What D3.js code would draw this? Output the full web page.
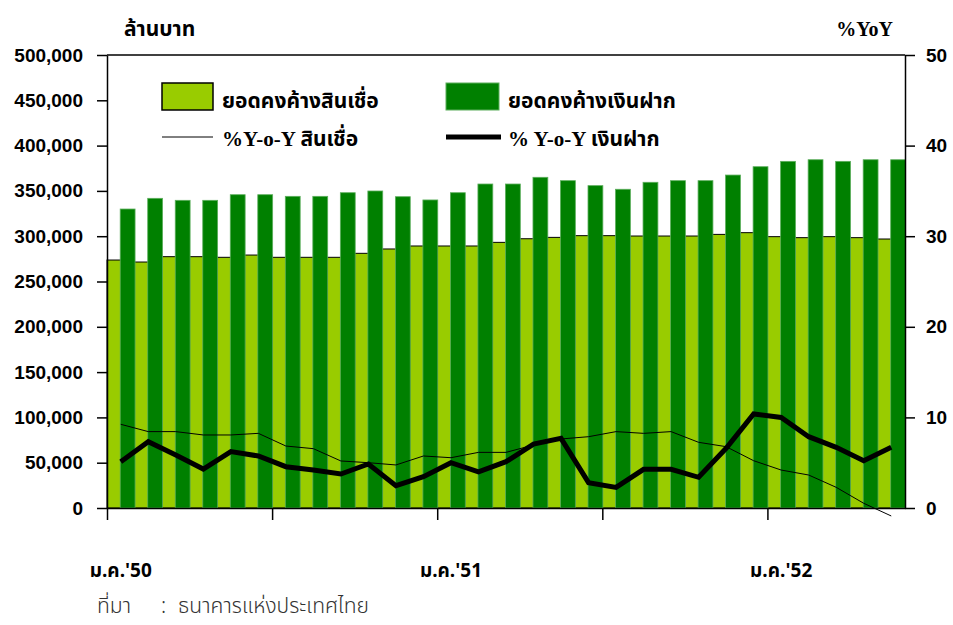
<!DOCTYPE html>
<html>
<head>
<meta charset="utf-8">
<script src="https://cdn.jsdelivr.net/npm/d3@7"></script>
<style>
  body { margin: 0; background: #fff; }
  svg { display: block; }
</style>
</head>
<body>
<div id="chart"></div>
<script>
/* monthly figures, Jan 2007 (B.E. 2550) .. May 2009 (B.E. 2552) */
const months = [
  "ม.ค.'50", "ก.พ.'50", "มี.ค.'50", "เม.ย.'50", "พ.ค.'50", "มิ.ย.'50", "ก.ค.'50", "ส.ค.'50", "ก.ย.'50", "ต.ค.'50", "พ.ย.'50", "ธ.ค.'50",
  "ม.ค.'51", "ก.พ.'51", "มี.ค.'51", "เม.ย.'51", "พ.ค.'51", "มิ.ย.'51", "ก.ค.'51", "ส.ค.'51", "ก.ย.'51", "ต.ค.'51", "พ.ย.'51", "ธ.ค.'51",
  "ม.ค.'52", "ก.พ.'52", "มี.ค.'52", "เม.ย.'52", "พ.ค.'52"
];
const loans = [273700, 271500, 277400, 277400, 276700, 279200, 276700, 276700, 276700, 281100, 285900, 289200,
  289200, 289200, 293200, 297200, 298700, 300600, 300600, 300200, 300200, 300200, 302000, 303900,
  299500, 298400, 299500, 298400, 296900];
const deposits = [330000, 341800, 339600, 339600, 345800, 345800, 344000, 344000, 348000, 349900, 343600, 340000,
  348000, 357600, 357600, 365000, 361300, 355800, 351800, 359500, 361300, 361300, 367500, 376700,
  382600, 384400, 382600, 384400, 384400];
const loansYoY = [9.24, 8.43, 8.43, 8.06, 8.06, 8.24, 6.84, 6.55, 5.19, 5.0, 4.75, 5.74,
  5.55, 6.14, 6.14, 6.95, 7.62, 7.87, 8.43, 8.24, 8.43, 7.25, 6.77, 5.22,
  4.19, 3.64, 2.28, 0.52, -0.88];
const depositsYoY = [5.11, 7.32, 5.85, 4.3, 6.22, 5.74, 4.56, 4.19, 3.75, 4.86, 2.46, 3.46,
  5.0, 4.0, 5.11, 7.06, 7.69, 2.8, 2.28, 4.27, 4.27, 3.39, 6.59, 10.38,
  10.0, 7.87, 6.7, 5.22, 6.7];
const leftTicks = [0, 50000, 100000, 150000, 200000, 250000, 300000, 350000, 400000, 450000, 500000];
const rightTicks = [0, 10, 20, 30, 40, 50];
const monthTicks = [0, 6, 12, 18, 24];
const yearLabels = [0, 12, 24];

const WIDTH = 953;
const HEIGHT = 625;
const plot = { left: 107, right: 905, top: 55, bottom: 508 };
const LIGHT = '#99cc00';
const DARK = '#008000';
const THAI = '"Noto Sans Thai", "Tahoma", "DejaVu Sans", sans-serif';
const NUM = '"Liberation Sans", Arial, sans-serif';

const svg = d3.select('#chart').append('svg')
  .attr('width', WIDTH).attr('height', HEIGHT);

const x = d3.scaleBand().domain(d3.range(months.length)).range([plot.left, plot.right]).padding(0);
const xi = d3.scaleLinear().domain([0, months.length]).range([plot.left, plot.right]);
const yL = d3.scaleLinear().domain([0, 500000]).range([plot.bottom, plot.top]);
const yR = d3.scaleLinear().domain([0, 50]).range([plot.bottom, plot.top]);
const step = x.bandwidth();

/* bars - loans full band, deposits overlapping on the right */
svg.append('g').selectAll('rect').data(loans).join('rect')
  .attr('x', (d, i) => x(i)).attr('width', step)
  .attr('y', d => yL(d)).attr('height', d => yL(0) - yL(d))
  .attr('fill', LIGHT).attr('stroke', '#000').attr('stroke-width', 1);

svg.append('g').selectAll('rect').data(deposits).join('rect')
  .attr('x', (d, i) => x(i) + step * 0.48).attr('width', step * 0.54)
  .attr('y', d => yL(d)).attr('height', d => yL(0) - yL(d))
  .attr('fill', DARK).attr('stroke', '#5cae5c').attr('stroke-width', 0.8);

/* yoy lines */
const line = d3.line().x((d, i) => x(i) + step / 2).y(d => yR(d));
svg.append('path').datum(loansYoY).attr('d', line)
  .attr('fill', 'none').attr('stroke', '#000').attr('stroke-width', 1);
svg.append('path').datum(depositsYoY).attr('d', line)
  .attr('fill', 'none').attr('stroke', '#000').attr('stroke-width', 5);

/* axes */
function styleAxis(g) {
  g.select('.domain').attr('stroke', '#000').attr('stroke-width', 1.5);
  g.selectAll('.tick line').attr('stroke', '#000').attr('stroke-width', 1.5);
  g.selectAll('.tick text').attr('fill', '#000')
    .style('font-family', NUM).style('font-weight', 'bold').style('font-size', '19px');
}

svg.append('g').attr('transform', `translate(${plot.left},0)`)
  .call(d3.axisLeft(yL).tickValues(leftTicks).tickSize(10).tickPadding(14).tickSizeOuter(0)
    .tickFormat(d3.format(',')))
  .call(styleAxis);

svg.append('g').attr('transform', `translate(${plot.right},0)`)
  .call(d3.axisRight(yR).tickValues(rightTicks).tickSize(10).tickPadding(11).tickSizeOuter(0))
  .call(styleAxis);

svg.append('g').attr('transform', `translate(0,${plot.bottom})`)
  .call(d3.axisBottom(xi).tickValues(monthTicks).tickSize(12).tickFormat('').tickSizeOuter(0))
  .call(styleAxis);

svg.append('line')
  .attr('x1', plot.left).attr('x2', plot.right).attr('y1', plot.top).attr('y2', plot.top)
  .attr('stroke', '#000').attr('stroke-width', 1.5);

/* month labels */
svg.append('g').selectAll('text').data(yearLabels).join('text')
  .attr('x', d => x(d) + step / 2).attr('y', 577)
  .attr('text-anchor', 'middle')
  .style('font-family', THAI).style('font-weight', 'bold').style('font-size', '19px')
  .text(d => months[d]);

/* axis titles */
svg.append('text').attr('x', 124).attr('y', 36)
  .style('font-family', THAI).style('font-weight', 'bold').style('font-size', '21px')
  .text('ล้านบาท');
svg.append('text').attr('x', 893).attr('y', 36).attr('text-anchor', 'end')
  .style('font-family', '"Liberation Serif", serif').style('font-weight', 'bold').style('font-size', '20px')
  .text('%YoY');

/* legend */
const legend = svg.append('g').style('font-weight', 'bold').style('font-size', '21px');
legend.append('rect').attr('x', 162).attr('y', 83).attr('width', 51).attr('height', 27)
  .attr('fill', LIGHT).attr('stroke', '#000').attr('stroke-width', 1.5);
legend.append('rect').attr('x', 446).attr('y', 83).attr('width', 53).attr('height', 27)
  .attr('fill', DARK).attr('stroke', '#5cae5c').attr('stroke-width', 1);
legend.append('line').attr('x1', 162).attr('x2', 213).attr('y1', 137).attr('y2', 137)
  .attr('stroke', '#000').attr('stroke-width', 1);
legend.append('line').attr('x1', 446).attr('x2', 501).attr('y1', 137).attr('y2', 137)
  .attr('stroke', '#000').attr('stroke-width', 5);

const legendText = [
  { x: 222, y: 108, parts: [['ยอดคงค้างสินเชื่อ', THAI]] },
  { x: 508, y: 108, parts: [['ยอดคงค้างเงินฝาก', THAI]] },
  { x: 222, y: 146, parts: [['%Y-o-Y ', '"Liberation Serif", serif'], ['สินเชื่อ', THAI]] },
  { x: 508, y: 146, parts: [['% Y-o-Y ', '"Liberation Serif", serif'], ['เงินฝาก', THAI]] }
];
legendText.forEach(t => {
  const el = legend.append('text').attr('x', t.x).attr('y', t.y).style('white-space', 'pre');
  t.parts.forEach(p => el.append('tspan').style('font-family', p[1]).text(p[0]));
});

/* source */
const source = svg.append('text').attr('y', 613)
  .style('font-family', THAI).style('font-size', '21px').style('font-weight', 300).attr('fill', '#333');
source.append('tspan').attr('x', 97).text('ที่มา');
source.append('tspan').attr('x', 161).text(':');
source.append('tspan').attr('x', 178).text('ธนาคารแห่งประเทศไทย');
</script>
</body>
</html>
